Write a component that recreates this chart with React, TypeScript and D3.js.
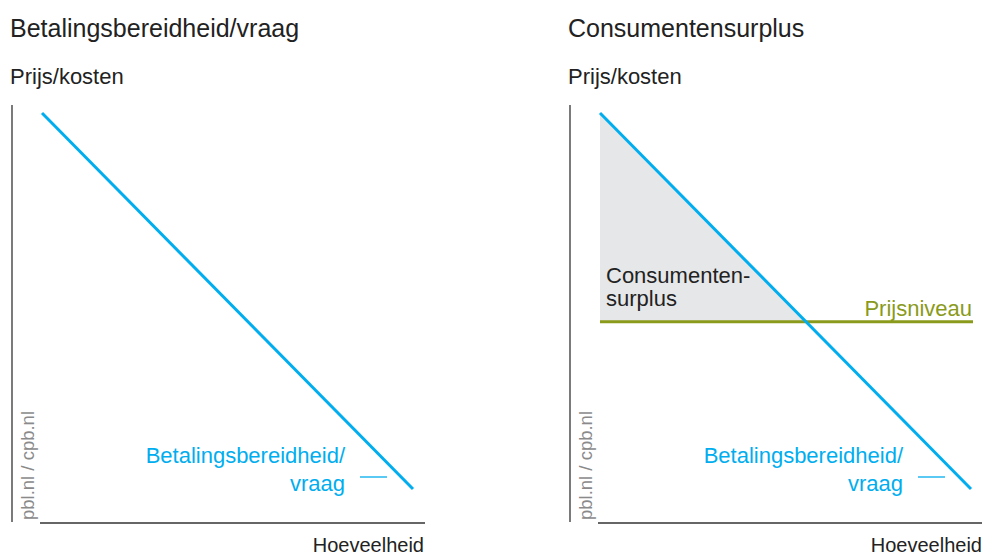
import React from "react";
import * as d3 from "d3";

// demand curve (willingness to pay) in abstract units
const quantity = [0, 10];
const willingness = [10, 0];
const priceLevel = 4.45;

const panelTitles = ["Betalingsbereidheid/vraag", "Consumentensurplus"];
const yLabel = "Prijs/kosten";
const xLabel = "Hoeveelheid";
const source = "pbl.nl / cpb.nl";
const demandLabel = ["Betalingsbereidheid/", "vraag"];
const surplusLabel = ["Consumenten-", "surplus"];
const priceLabel = "Prijsniveau";

const BLUE = "#00aeef";
const GREEN = "#8a9a1b";
const FONT = "'Liberation Sans', Arial, Helvetica, sans-serif";

const demand = quantity.map((q, i) => ({ q, p: willingness[i] }));

// price on the demand line -> quantity
const qAt = (p: number) => d3.scaleLinear().domain(willingness).range(quantity)(p);

const Panel = ({ ox, idx }: { ox: number; idx: number }) => {
  const x = d3.scaleLinear().domain([0, 10]).range([ox + 30, ox + 401]);
  const y = d3.scaleLinear().domain([0, 10]).range([489, 113]);
  const line = d3.line<{ q: number; p: number }>().x(d => x(d.q)).y(d => y(d.p));
  const showSurplus = idx === 1;
  const qStar = qAt(priceLevel);
  const area = [
    { q: 0, p: willingness[0] },
    { q: 0, p: priceLevel },
    { q: qStar, p: priceLevel },
  ];
  return (
    <g fontFamily={FONT}>
      <text x={ox - 2} y={37} fontSize={25} fill="#222">{panelTitles[idx]}</text>
      <text x={ox - 2} y={84} fontSize={22} fill="#222">{yLabel}</text>
      {showSurplus && <path d={line(area) + "Z"} fill="#e6e7e8" />}
      <line x1={ox} x2={ox} y1={105} y2={522} stroke="#333" strokeWidth={1.3} />
      <line x1={ox + 28} x2={ox + 413} y1={523} y2={523} stroke="#333" strokeWidth={1.3} />
      <text
        transform={`translate(${ox + 16},520) rotate(-90)`}
        fontSize={18.5}
        fill="#8a8a8a"
        dy="0.35em"
      >
        {source}
      </text>
      <text x={ox + 412} y={552} fontSize={20} fill="#222" textAnchor="end">{xLabel}</text>
      {showSurplus && (
        <g>
          <text x={x(0) + 6} y={283} fontSize={22} fill="#222">{surplusLabel[0]}</text>
          <text x={x(0) + 6} y={306} fontSize={22} fill="#222">{surplusLabel[1]}</text>
          <line x1={x(0)} x2={x(10) + 2} y1={y(priceLevel)} y2={y(priceLevel)} stroke={GREEN} strokeWidth={3} />
          <text x={x(10) + 1} y={316} fontSize={22} fill={GREEN} textAnchor="end">{priceLabel}</text>
        </g>
      )}
      <path d={line(demand) || ""} fill="none" stroke={BLUE} strokeWidth={3} />
      <text x={ox + 333} y={463} fontSize={22} fill={BLUE} textAnchor="end">{demandLabel[0]}</text>
      <text x={ox + 333} y={491} fontSize={22} fill={BLUE} textAnchor="end">{demandLabel[1]}</text>
      <line x1={ox + 348} x2={ox + 375} y1={477} y2={477} stroke={BLUE} strokeWidth={1.3} />
    </g>
  );
};

export default function App() {
  return (
    <svg width={982} height={557} style={{ display: "block", position: "absolute", left: 0, top: 0 }}>
      <rect width={982} height={557} fill="#fff" />
      <Panel ox={12} idx={0} />
      <Panel ox={570} idx={1} />
    </svg>
  );
}
